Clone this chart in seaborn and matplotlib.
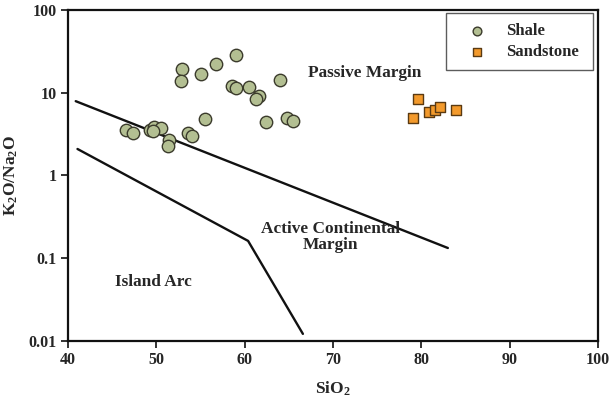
import matplotlib
matplotlib.use("Agg")
import matplotlib.pyplot as plt
import seaborn as sns
import pandas as pd

# Shale samples
shale_sio2 = [59.0, 52.9, 56.8, 52.8, 55.1, 58.6, 59.0, 60.5, 64.0, 61.6, 61.3, 62.4, 55.5,
              64.8, 65.5, 46.6, 47.4, 49.3, 49.8, 50.6, 49.6, 53.6, 54.0, 51.4, 51.3]
shale_ratio = [28.6, 19.4, 22.3, 13.9, 16.9, 12.1, 11.3, 11.7, 14.3, 9.1, 8.4, 4.4, 4.8,
               5.0, 4.6, 3.5, 3.3, 3.5, 3.8, 3.7, 3.4, 3.3, 3.0, 2.7, 2.3]
# Sandstone samples
sand_sio2 = [79.6, 79.1, 80.9, 81.5, 82.1, 83.9]
sand_ratio = [8.4, 4.95, 5.85, 6.2, 6.7, 6.2]

# Discrimination boundaries
upper_x = [40.9, 83.0]
upper_y = [7.9, 0.133]
lower_x = [41.1, 60.4, 66.6]
lower_y = [2.09, 0.162, 0.0122]

x_ticks = [40, 50, 60, 70, 80, 90, 100]
y_ticks = [0.01, 0.1, 1, 10, 100]
y_tick_labels = ["0.01", "0.1", "1", "10", "100"]

sns.set_style("ticks")
plt.rcParams['font.family'] = ['Liberation Serif', 'DejaVu Serif']
plt.rcParams['font.weight'] = 'bold'
plt.rcParams['mathtext.fontset'] = 'custom'
plt.rcParams['mathtext.rm'] = 'Liberation Serif:bold'
plt.rcParams['mathtext.bf'] = 'Liberation Serif:bold'
plt.rcParams['mathtext.it'] = 'Liberation Serif:bold:italic'

fig = plt.figure(figsize=(6.16, 3.97), dpi=100)
ax = fig.add_axes([0.110, 0.141, 0.861, 0.834])

df_sh = pd.DataFrame({"SiO2": shale_sio2, "ratio": shale_ratio})
df_sa = pd.DataFrame({"SiO2": sand_sio2, "ratio": sand_ratio})

ax.plot(upper_x, upper_y, color="#111111", lw=1.7, zorder=2)
ax.plot(lower_x, lower_y, color="#111111", lw=1.7, zorder=2)

sns.scatterplot(data=df_sh, x="SiO2", y="ratio", ax=ax, marker="o", s=80,
                color="#b3bf92", edgecolor="#3b3b2c", linewidth=1.0, label="Shale", zorder=3)
sns.scatterplot(data=df_sa, x="SiO2", y="ratio", ax=ax, marker="s", s=55,
                color="#f39a2c", edgecolor="#5a3a12", linewidth=1.0, label="Sandstone", zorder=3)

ax.set_yscale("log")
ax.set_xlim(40, 100)
ax.set_ylim(0.01, 100)
ax.set_xticks(x_ticks)
ax.set_xticklabels([str(t) for t in x_ticks], fontsize=11.5, fontweight="bold")
ax.set_yticks(y_ticks)
ax.set_yticklabels(y_tick_labels, fontsize=11.5, fontweight="bold")
ax.minorticks_off()
ax.tick_params(axis="both", direction="out", length=5, width=1.2, color="#111111", pad=3)

for sp in ax.spines.values():
    sp.set_linewidth(1.6)
    sp.set_color("#111111")

ax.set_xlabel("SiO$_{2}$", fontsize=12.5, fontweight="bold", labelpad=8)
ax.set_ylabel("K$_{2}$O/Na$_{2}$O", fontsize=12.5, fontweight="bold", labelpad=6)

ax.text(73.6, 17.3, "Passive Margin", fontsize=12.4, fontweight="bold", ha="center", va="center")
ax.text(69.7, 0.18, "Active Continental\nMargin", fontsize=12.4, fontweight="bold",
        ha="center", va="center", linespacing=1.05)
ax.text(49.7, 0.0516, "Island Arc", fontsize=12.4, fontweight="bold", ha="center", va="center")

leg = ax.legend(loc="upper left", bbox_to_anchor=(0.713, 0.825, 0.277, 0.166), mode="expand",
                frameon=True, fancybox=False, edgecolor="#333333", fontsize=12,
                borderpad=0.6, handlelength=2.5, handletextpad=0.5,
                borderaxespad=0.0, labelspacing=0.3, markerscale=0.7)
leg.get_frame().set_linewidth(1.0)
for t in leg.get_texts():
    t.set_fontweight("bold")

fig.savefig("out.png", dpi=100)
